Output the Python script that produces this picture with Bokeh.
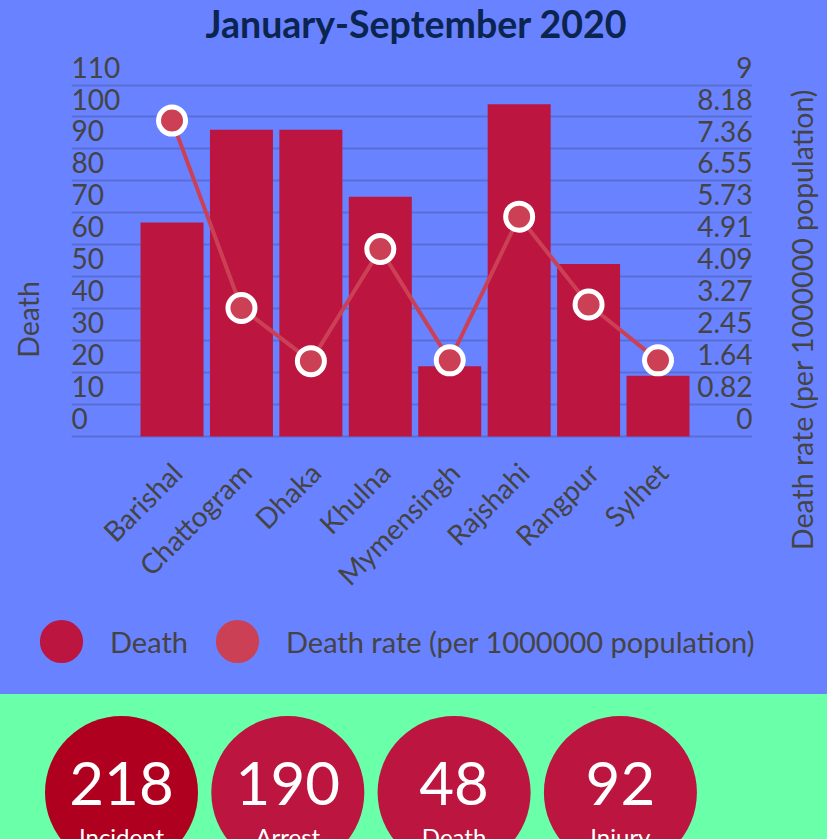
import math
from bokeh.plotting import figure
from bokeh.models import (Range1d, LinearAxis, FixedTicker, Grid, Label, Legend, LegendItem,
                          NumeralTickFormatter, CustomJSTickFormatter, ColumnDataSource)
from bokeh.layouts import column, row
from bokeh.core.properties import value
from bokeh.embed import file_html
from bokeh.resources import INLINE

# ---------------- data ----------------
regions = ["Barishal", "Chattogram", "Dhaka", "Khulna", "Mymensingh", "Rajshahi", "Rangpur", "Sylhet"]
deaths = [67, 96, 96, 75, 22, 104, 54, 19]
death_rate = [8.09, 3.29, 1.93, 4.80, 1.95, 5.63, 3.38, 1.95]
death_ticks = [0, 10, 20, 30, 40, 50, 60, 70, 80, 90, 100, 110]
rate_ticks = [0, 0.82, 1.64, 2.45, 3.27, 4.09, 4.91, 5.73, 6.55, 7.36, 8.18, 9]

title_text = "January-September 2020"
y_title_left = "Death"
y_title_right = "Death rate (per 1000000 population)"

summary_labels = ["Incident", "Arrest", "Death", "Injury"]
summary_values = [218, 190, 48, 92]

# ---------------- style ----------------
BLUE = "#6982ff"
GREEN = "#6affa9"
BAR = "#bb1540"
RATE = "#cc4055"
GRID = "#5a6fd6"
TXT = "#444444"
NAVY = "#0b2450"
FONT = "Lato"

# frame geometry (layout constants)
X0, X1 = -1.448, 8.361
Y0, Y1 = -51.33, 136.46
LBL = 5.63          # tick labels sit above their grid lines
K = 9.0 / 110.0     # death axis -> rate axis ratio
XL = 0.065          # category labels shift

idx = list(range(len(regions)))
src = ColumnDataSource(dict(x=idx, region=regions, death=deaths, rate=death_rate))


def blank(width, height, xr, yr, color):
    f = figure(width=width, height=height, x_range=xr, y_range=yr,
               x_axis_type=None, y_axis_type=None, title=None, toolbar_location=None,
               output_backend="svg", min_border=0,
               background_fill_color=color, border_fill_color=color, outline_line_color=None,
               styles={"background-color": color})
    f.frame_align = False
    return f


# ---------------- main chart ----------------
p = blank(681, 600, Range1d(X0, X1), Range1d(Y0, Y1), BLUE)

p.extra_y_ranges = {
    "rate": Range1d(Y0 * K, Y1 * K),
    "lbl": Range1d(Y0 - LBL, Y1 - LBL),
    "lblr": Range1d((Y0 - LBL) * K, (Y1 - LBL) * K),
}
p.extra_x_ranges = {"xl": Range1d(X0 - XL, X1 - XL)}

p.add_layout(Grid(dimension=1, ticker=FixedTicker(ticks=death_ticks),
                  grid_line_color=GRID, grid_line_width=2))

p.vbar(x="x", top="death", bottom=0, width=0.907, source=src,
       fill_color=BAR, line_color=None)
p.line(x="x", y="rate", source=src, y_range_name="rate", line_color=RATE, line_width=4)
p.scatter(x="x", y="rate", source=src, y_range_name="rate", marker="circle", size=27,
          fill_color=RATE, line_color="white", line_width=5)

common = dict(axis_line_color=None, major_tick_line_color=None, minor_tick_line_color=None,
              major_tick_out=0, major_tick_in=0,
              major_label_text_font=FONT, major_label_text_font_size="28px",
              major_label_text_color=TXT)

# left value labels (left aligned, inside the plot)
ax_left = LinearAxis(y_range_name="lbl", fixed_location=X0,
                     ticker=FixedTicker(ticks=death_ticks), major_label_standoff=0, **common)
p.add_layout(ax_left, "right")

# right value labels (right aligned, inside the plot)
ax_right = LinearAxis(y_range_name="lblr", fixed_location=X1,
                      ticker=FixedTicker(ticks=rate_ticks),
                      formatter=NumeralTickFormatter(format="0.[00]"),
                      major_label_standoff=0, **common)
p.add_layout(ax_right, "left")

# category labels
ax_x = LinearAxis(x_range_name="xl", fixed_location=0, ticker=FixedTicker(ticks=idx),
                  formatter=CustomJSTickFormatter(args=dict(names=regions),
                                                  code="return names[Math.round(tick)] || '';"),
                  major_label_orientation=math.pi / 4, major_label_standoff=31, **common)
p.add_layout(ax_x, "below")

p.add_layout(Label(x=3.52, y=129.4, text=title_text, text_align="center",
                   text_baseline="middle", text_font=FONT, text_font_style="bold",
                   text_font_size="37.5px", text_color=NAVY))

# ---------------- side titles ----------------
lt = blank(71, 600, Range1d(0, 71), Range1d(0, 600), BLUE)
lt.text(x=[27], y=[281], text=[y_title_left], angle=math.pi / 2, text_align="center",
        text_baseline="middle", text_font=value(FONT), text_font_size="28.5px", text_color=TXT)
rt = blank(75, 600, Range1d(0, 75), Range1d(0, 600), BLUE)
rt.text(x=[49], y=[281], text=[y_title_right], angle=math.pi / 2, text_align="center",
        text_baseline="middle", text_font=value(FONT), text_font_size="28.5px", text_color=TXT)

# ---------------- legend strip ----------------
lg = blank(827, 94, Range1d(0, 1), Range1d(0, 1), BLUE)
leg_death = lg.scatter(x="x", y="death", source=src, marker="circle", size=0,
                       fill_color=BAR, line_color=BAR, line_width=4)
leg_rate = lg.scatter(x="x", y="rate", source=src, marker="circle", size=0,
                      fill_color=RATE, line_color=RATE, line_width=4)
legend = Legend(items=[LegendItem(label=y_title_left, renderers=[leg_death]),
                       LegendItem(label=y_title_right, renderers=[leg_rate])],
                orientation="horizontal", location=(12, 4),
                glyph_width=98, glyph_height=98, label_standoff=0, spacing=0,
                padding=0, margin=0, border_line_color=None, background_fill_alpha=0,
                label_text_font=FONT, label_text_font_size="29px", label_text_color=TXT)
lg.add_layout(legend)

# ---------------- summary cards ----------------
sidx = list(range(len(summary_values)))
card_colors = ["#b0001f", BAR, BAR, BAR]
ssrc = ColumnDataSource(dict(x=sidx, y=[0] * len(sidx), num=[str(v) for v in summary_values],
                             lab=summary_labels, col=card_colors))

q = blank(827, 145, Range1d(-0.7276, 4.2453), Range1d(-47, 98), GREEN)
q.scatter(x="x", y="y", source=ssrc, marker="circle", size=153, fill_color="col", line_color=None)
q.text(x="x", y="y", text="num", source=ssrc, text_align="center", text_baseline="middle",
       y_offset=-9, text_font=value(FONT), text_font_size="60px", text_color="white")
q.text(x="x", y="y", text="lab", source=ssrc, text_align="center", text_baseline="middle",
       y_offset=44, text_font=value(FONT), text_font_size="24px", text_color="white")

layout = column(row(lt, p, rt, spacing=0), lg, q, spacing=0)
open("out.html", "w").write(file_html(layout, INLINE))
